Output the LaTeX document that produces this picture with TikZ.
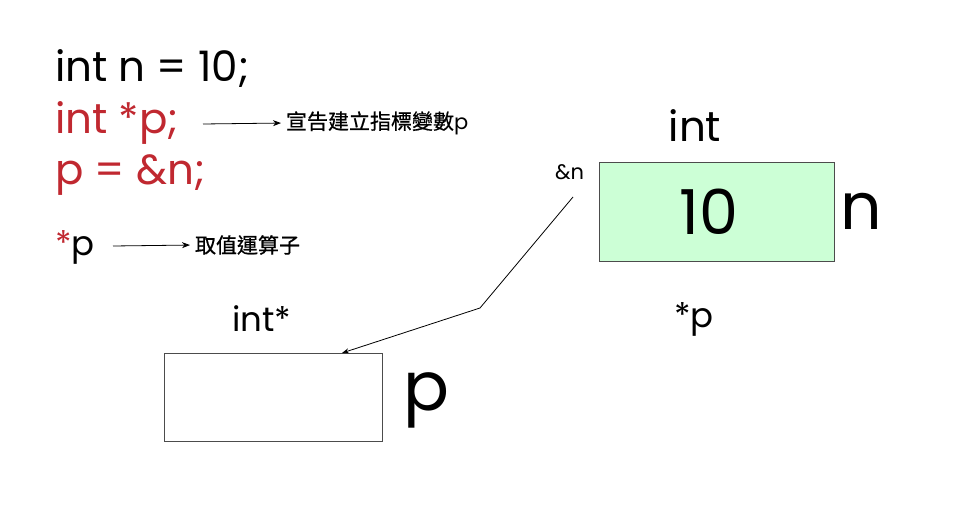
\documentclass[tikz,border=0pt]{standalone}
\usepackage{fontspec}
\setmainfont{Poppins}
\newfontfamily\cjk[FakeBold=0.7]{Noto Sans CJK TC}
\usetikzlibrary{arrows.meta}
\newcommand\adv[1]{\fontsize{#1}{#1}\selectfont}
\definecolor{codered}{RGB}{192,40,48}
\definecolor{boxgreen}{RGB}{204,255,214}
\tikzset{
  txt/.style={inner sep=0pt, outer sep=0pt, anchor=base west},
  code/.style={txt, font=\adv{42}},
  cjklabel/.style={txt, anchor=west, font=\cjk\fontsize{21}{21}\selectfont},
  memcell/.style={draw=black!70, line width=1pt, inner sep=0pt, outer sep=0pt, anchor=north west},
  thinarrow/.style={line width=0.8pt, shorten >=5pt, -{Stealth[length=8pt,width=6pt]}},
}
\begin{document}
\begin{tikzpicture}[x=1pt,y=-1pt]
\useasboundingbox (0,0) rectangle (972,529);
% code lines
\node[code, text=black] (l1) at (55,82) {int n = 10;};
\node[code, text=codered] (l2) at (55,134) {int *p;};
\node[code, text=codered] (l3) at (55,185) {p = \&n;};
\node[txt, font=\adv{34}] (l4) at (55,256) {\textcolor{codered}{*}p};
% annotations
\coordinate (a1s) at (203,124);
\node[cjklabel] (c1) at (286,123) {宣告建立指標變數{\rmfamily\adv{21}p}};
\draw[thinarrow] (a1s) -- (c1.west);
\coordinate (a2s) at (113,246);
\node[cjklabel] (c2) at (195,245) {取值運算子};
\draw[thinarrow] (a2s) -- (c2.west);
% variable n
\node[memcell, fill=boxgreen, minimum width=235pt, minimum height=99pt] (nbox) at (599,163) {};
\node[txt, anchor=base, font=\adv{62}] (nval) at (709,235) {10};
\node[txt, anchor=base, font=\adv{42}] (nint) at (695,142) {int};
\node[txt, font=\adv{65}] (nname) at (840,230) {n};
\node[txt, anchor=base, font=\adv{34}] (nstar) at (694,328) {*p};
\node[txt, font=\adv{21}] (amp) at (555,180) {\&n};
% variable p
\node[memcell, fill=white, minimum width=218pt, minimum height=88pt] (pbox) at (164,353) {};
\node[txt, font=\adv{34}] (pint) at (232,332) {int*};
\node[txt, font=\adv{68}] (pname) at (403,410) {p};
% pointer connector
\coordinate (cs) at (573,197);
\coordinate (cb) at (480,308);
\coordinate (ce) at (342,353);
\draw[line width=0.8pt, -{Stealth[length=7pt,width=5pt]}] (cs) -- (cb) -- (ce);
\end{tikzpicture}
\end{document}
